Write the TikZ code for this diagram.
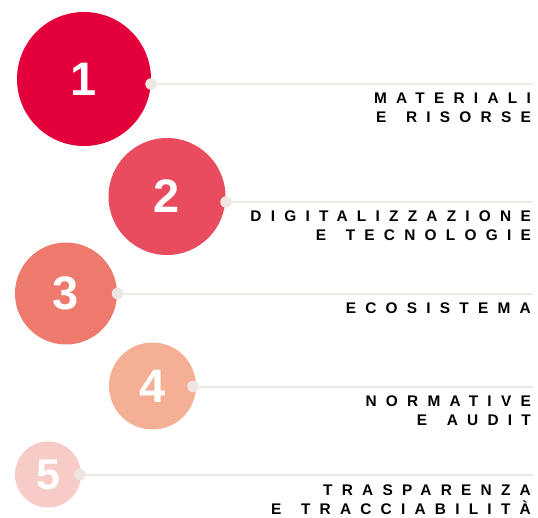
\documentclass[tikz,border=0pt]{standalone}
\usepackage{fontspec}
\setmainfont{Liberation Sans}
\newfontfamily\labelfont[LetterSpace=60, WordSpace=1.45]{Liberation Sans Bold}
\usetikzlibrary{positioning}
\definecolor{tone1}{HTML}{E4003B}
\definecolor{tone2}{HTML}{E94B5F}
\definecolor{tone3}{HTML}{EE7A6E}
\definecolor{tone4}{HTML}{F5AF95}
\definecolor{tone5}{HTML}{F8CCC6}
\definecolor{rulecol}{HTML}{F1E7E5}
\definecolor{pinfill}{HTML}{EEE6E3}
\tikzset{
    disc/.style = {circle, inner sep=0pt, text=white, font=\bfseries\fontsize{47}{47}\selectfont},
    pin/.style = {circle, inner sep=0pt, minimum size=11.5pt, fill=pinfill},
    rule/.style = {draw=rulecol, line width=2pt},
    caption/.style = {inner sep=0pt, align=right, text=black, font=\labelfont\fontsize{15.4}{18.6}\selectfont}
}

\begin{document}
\begin{tikzpicture}[x=1pt, y=-1pt]
  \useasboundingbox (0,0) rectangle (538,517);

  % numbered discs
  \node[disc, fill=tone1, minimum size=134pt] (c1) at (84,79) {1};
  \node[disc, fill=tone2, minimum size=117pt] (c2) at (167,196.5) {2};
  \node[disc, fill=tone3, minimum size=102pt] (c3) at (66,293.5) {3};
  \node[disc, fill=tone4, minimum size=87pt] (c4) at (152.5,386) {4};
  \node[disc, fill=tone5, minimum size=66pt, font=\bfseries\fontsize{43}{43}\selectfont] (c5) at (48,474.5) {5};

  % pins with their rules
  \node[pin] (p1) at (151,84) {};
  \node[pin] (p2) at (226,202) {};
  \node[pin] (p3) at (117.5,293.5) {};
  \node[pin] (p4) at (193,386.5) {};
  \node[pin] (p5) at (80,474.5) {};

  \coordinate (e1) at (533,84);
  \coordinate (e2) at (533,202);
  \coordinate (e3) at (533,293.5);
  \coordinate (e4) at (533,386.5);
  \coordinate (e5) at (533,474.5);

  \draw[rule] (p1) -- (e1);
  \draw[rule] (p2) -- (e2);
  \draw[rule] (p3) -- (e3);
  \draw[rule] (p4) -- (e4);
  \draw[rule] (p5) -- (e5);

  % labels under the rules
  \node[caption, below left=9pt and 2pt of e1] (t1) {MATERIALI\\E RISORSE};
  \node[caption, below left=9pt and 2pt of e2] (t2) {DIGITALIZZAZIONE\\E TECNOLOGIE};
  \node[caption, below left=9pt and 2pt of e3] (t3) {ECOSISTEMA};
  \node[caption, below left=9pt and 2pt of e4] (t4) {NORMATIVE\\E AUDIT};
  \node[caption, below left=10.5pt and 2pt of e5] (t5) {TRASPARENZA\\E TRACCIABILITÀ};
\end{tikzpicture}
\end{document}
